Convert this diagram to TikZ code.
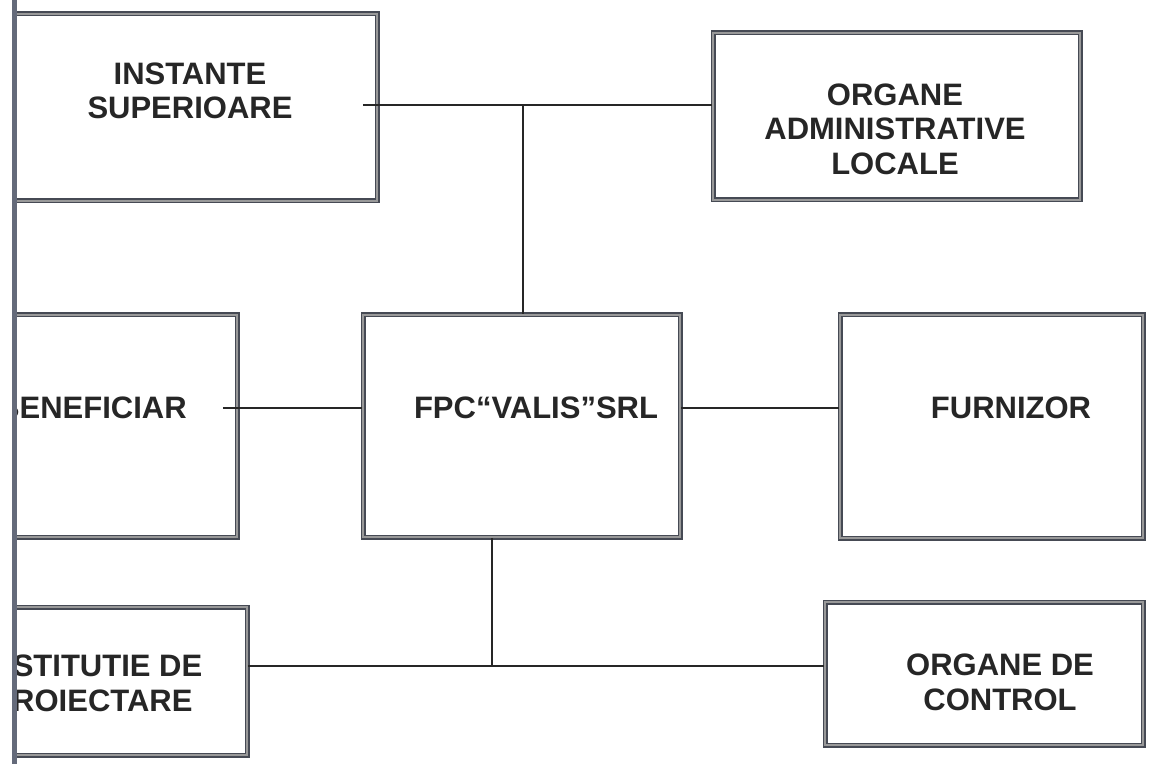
\documentclass[tikz,border=0pt]{standalone}
\usepackage{fontspec}
\setmainfont{Liberation Sans}
\definecolor{frame}{RGB}{70,74,84}
\definecolor{edge}{RGB}{100,106,122}
\begin{document}
\begin{tikzpicture}[x=0.5pt,y=-0.5pt,
        box/.style={draw=frame,double=black!40,double distance=0.8pt,line width=0.85pt},
        txt/.style={font=\bfseries\fontsize{15.5}{17.3}\selectfont,align=center,text=black!85,inner sep=0pt},
        lnk/.style={line width=0.8pt,draw=black!85}]
    \useasboundingbox (0,0) rectangle (1151,764);
    \begin{scope}
        \clip (12,0) rectangle (1151,764);
        \node[box,minimum width=187pt,minimum height=93.5pt] (inst) at (190,107.5) {};
        \node[txt] (inst-t) at (190,91) {INSTANTE\\SUPERIOARE};
        \node[box,minimum width=183.5pt,minimum height=83.5pt] (org) at (896.5,116.5) {};
        \node[txt] (org-t) at (895,129) {ORGANE\\ADMINISTRATIVE\\LOCALE};
        \node[box,minimum width=148.5pt,minimum height=111pt] (benef) at (88.5,426) {};
        \node[txt] (benef-t) at (92,408) {BENEFICIAR};
        \node[box,minimum width=158.5pt,minimum height=111pt] (fpc) at (521.5,426) {};
        \node[txt] (fpc-t) at (536,408) {FPC“VALIS”SRL};
        \node[box,minimum width=151.5pt,minimum height=111.5pt] (furn) at (991.5,426.5) {};
        \node[txt] (furn-t) at (1011,408) {FURNIZOR};
        \node[box,minimum width=155pt,minimum height=74pt] (instit) at (92,681) {};
        \node[txt] (instit-t) at (92,683.5) {INSTITUTIE DE\\PROIECTARE};
        \node[box,minimum width=159pt,minimum height=71.5pt] (ctrl) at (984,673.5) {};
        \node[txt] (ctrl-t) at (1000,682.5) {ORGANE DE\\CONTROL};
        \coordinate (jt) at (523,105);
        \coordinate (jb) at (492,666);
        \draw[lnk,shorten <=-7.5pt] (inst.east |- jt) -- (org.west |- jt);
        \draw[lnk] (jt) -- (fpc.north -| jt);
        \draw[lnk,shorten <=-7.5pt] (benef.east |- fpc-t) -- (fpc.west |- fpc-t);
        \draw[lnk] (fpc.east |- fpc-t) -- (furn.west |- fpc-t);
        \draw[lnk] (fpc.south -| jb) -- (jb);
        \draw[lnk] (instit.east |- jb) -- (ctrl.west |- jb);
        \fill[edge] (12,0) rectangle (16.5,764);
    \end{scope}
\end{tikzpicture}
\end{document}
